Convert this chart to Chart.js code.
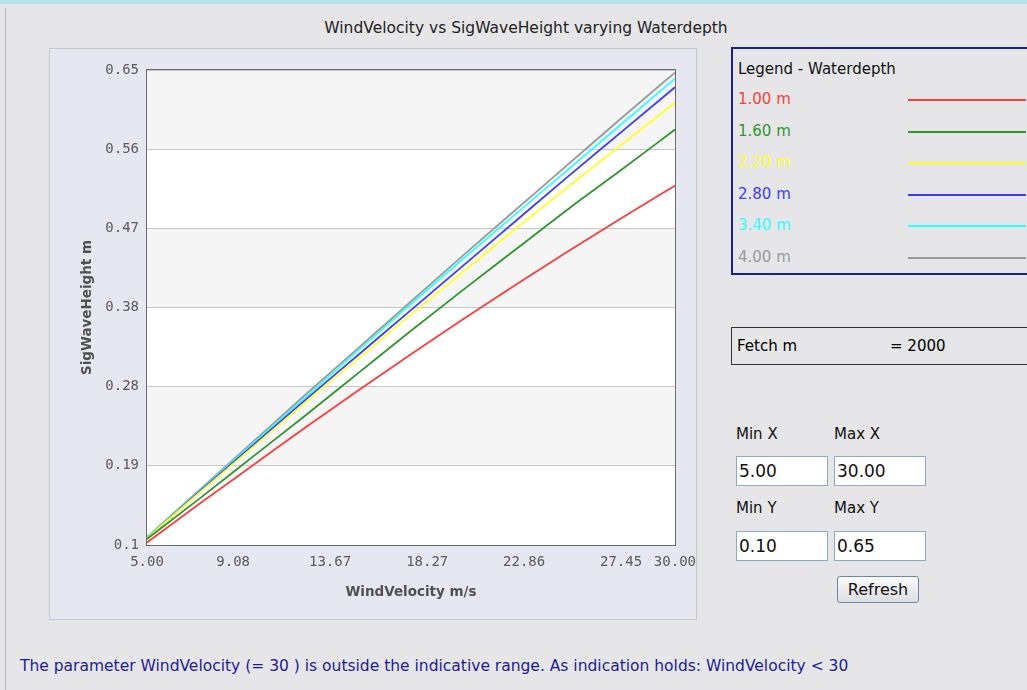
<!DOCTYPE html>
<html>
<head>
<meta charset="utf-8">
<script src="https://cdn.jsdelivr.net/npm/chart.js@4.4.1/dist/chart.umd.min.js"></script>
<style>
  html, body { margin: 0; padding: 0; }
  body {
    width: 1027px; height: 690px; overflow: hidden; position: relative;
    background: #e6e6e8; font-family: "DejaVu Sans", sans-serif;
    border-top: 4px solid #b4e2ea; box-sizing: border-box;
  }
  .frame { position: absolute; left: 5px; top: 4px; width: 1100px; height: 700px; border-left: 1px solid #b8b8bc; }
  .title { position: absolute; left: 176px; width: 700px; top: 15px; text-align: center; font-size: 15.5px; color: #222; }
  .panel {
    position: absolute; left: 49px; top: 44px; width: 646px; height: 570px;
    background: #e6e7f0; border: 1px solid #c6c6cc;
  }
  #plot-canvas { display: block; }
  .legend {
    position: absolute; left: 731px; top: 43px; width: 320px; height: 224px;
    border: 2px solid #20208c; font-size: 15px;
  }
  .legend .head { position: absolute; left: 5px; top: 11px; color: #111; }
  .legend .row { position: absolute; left: 5px; width: 300px; height: 18px; }
  .legend .row span { position: absolute; left: 0; top: 0; }
  .legend .row i { position: absolute; left: 170px; top: 9px; width: 118px; height: 0; border-top: 2px solid; }
  .fetch {
    position: absolute; left: 731px; top: 323px; width: 320px; height: 36px;
    border: 1px solid #333; font-size: 15px;
  }
  .fetch span { position: absolute; top: 9px; }
  .lbl { position: absolute; font-size: 15px; color: #111; }
  .inp {
    position: absolute; width: 88px; height: 28px; background: #fff;
    border: 1px solid #8fa9c9; font-size: 17px; line-height: 28px; padding-left: 2px; box-sizing: content-box; color: #111;
  }
  .btn {
    position: absolute; left: 837px; top: 572px; width: 80px; height: 25px;
    border: 1px solid #6e86a6; border-radius: 3px; font-size: 16px; text-align: center; line-height: 25px;
    background: linear-gradient(#fbfbfb, #dcdde2); color: #111;
  }
  .msg { position: absolute; left: 20px; top: 653px; font-size: 15.5px; color: #1c1c9a; white-space: nowrap; }
</style>
</head>
<body>
<div class="frame"></div>
<div class="title">WindVelocity vs SigWaveHeight varying Waterdepth</div>
<div class="panel"><canvas id="plot-canvas" width="655" height="570"></canvas></div>
<div class="legend" id="legend"><div class="head">Legend - Waterdepth</div></div>
<div class="fetch"><span style="left:5px">Fetch m</span><span style="left:158px">= 2000</span></div>
<div class="lbl" style="left:736px; top:421px">Min X</div>
<div class="lbl" style="left:834px; top:421px">Max X</div>
<div class="inp" style="left:736px; top:452px">5.00</div>
<div class="inp" style="left:834px; top:452px">30.00</div>
<div class="lbl" style="left:736px; top:495px">Min Y</div>
<div class="lbl" style="left:834px; top:495px">Max Y</div>
<div class="inp" style="left:736px; top:527px">0.10</div>
<div class="inp" style="left:834px; top:527px">0.65</div>
<div class="btn">Refresh</div>
<div class="msg">The parameter WindVelocity (= 30 ) is outside the indicative range. As indication holds: WindVelocity &lt; 30</div>

<script>
"use strict";

// Wind velocity (m/s) sample points
const windVelocity = [5, 7.5, 10, 12.5, 15, 17.5, 20, 22.5, 25, 27.5, 30];

// Significant wave height (m) for each water depth
const depth100 = [0.103, 0.148, 0.192, 0.236, 0.279, 0.321, 0.362, 0.402, 0.441, 0.479, 0.516];
const depth160 = [0.107, 0.154, 0.202, 0.250, 0.299, 0.348, 0.396, 0.443, 0.490, 0.535, 0.581];
const depth220 = [0.108, 0.161, 0.213, 0.265, 0.316, 0.367, 0.417, 0.467, 0.516, 0.564, 0.612];
const depth280 = [0.108, 0.162, 0.215, 0.268, 0.320, 0.372, 0.424, 0.476, 0.528, 0.579, 0.630];
const depth340 = [0.109, 0.163, 0.217, 0.271, 0.325, 0.379, 0.432, 0.484, 0.536, 0.588, 0.640];
const depth400 = [0.109, 0.164, 0.219, 0.274, 0.328, 0.382, 0.436, 0.489, 0.542, 0.595, 0.647];

const depthLabels = ['1.00 m', '1.60 m', '2.20 m', '2.80 m', '3.40 m', '4.00 m'];
const depthColors = ['#ff3c3c', '#2f962f', '#ffff2a', '#3c3cff', '#30ffff', '#9a9a9a'];
const depthSeries = [depth100, depth160, depth220, depth280, depth340, depth400];

const xTickLabels = ['5.00', '9.08', '13.67', '18.27', '22.86', '27.45', '30.00'];
const yTickLabels = ['0.1', '0.19', '0.28', '0.38', '0.47', '0.56', '0.65'];

const minX = 5, maxX = 30, minY = 0.1, maxY = 0.65;

let ctx = document.getElementById('plot-canvas').getContext('2d');

// alternating bands behind the plot + frame around it
const bandPlugin = {
    id: 'bands',
    beforeDraw(chart) {
        const { ctx, chartArea: a, scales: { y } } = chart;
        ctx.save();
        ctx.fillStyle = '#ffffff';
        ctx.fillRect(a.left, a.top, a.right - a.left, a.bottom - a.top);
        ctx.fillStyle = '#f5f5f5';
        for (let i = 0; i < y.ticks.length - 1; i++) {
            if (i % 2 === 0) continue;
            const top = y.getPixelForValue(y.ticks[i + 1].value);
            const bot = y.getPixelForValue(y.ticks[i].value);
            ctx.fillRect(a.left, top, a.right - a.left, bot - top);
        }
        ctx.restore();
    },
    afterDraw(chart) {
        const { ctx, chartArea: a } = chart;
        ctx.save();
        ctx.strokeStyle = '#6a6a6a';
        ctx.lineWidth = 1;
        ctx.strokeRect(Math.round(a.left) - 0.5, Math.round(a.top) - 0.5, Math.round(a.right - a.left) + 1, Math.round(a.bottom - a.top) + 1);
        ctx.restore();
    }
};

// html legend from the datasets
const htmlLegend = {
    id: 'htmlLegend',
    afterUpdate(chart) {
        const box = document.getElementById('legend');
        box.querySelectorAll('.row').forEach(r => r.remove());
        chart.data.datasets.forEach((ds, i) => {
            const row = document.createElement('div');
            row.className = 'row';
            row.style.top = (41 + i * 31.6) + 'px';
            row.innerHTML = `<span style="color:${ds.borderColor}">${ds.label}</span><i style="border-color:${ds.borderColor}"></i>`;
            box.appendChild(row);
        });
    }
};

const datasets = depthSeries.map((vals, i) => ({
    label: depthLabels[i],
    data: windVelocity.map((x, j) => ({ x: x, y: vals[j] })),
    borderColor: depthColors[i],
    borderWidth: 1.8,
    pointRadius: 0,
    fill: false,
    cubicInterpolationMode: 'monotone'
}));

const monoFont = { family: '"DejaVu Sans Mono", monospace', size: 14 };
const boldFont = { family: '"DejaVu Sans", sans-serif', size: 13.5, weight: 'bold' };

let chart = new Chart(ctx, {
    type: 'line',
    data: { datasets: datasets },
    options: {
        responsive: false,
        animation: false,
        layout: { padding: { left: 0, right: 21, top: 21, bottom: 0 } },
        plugins: {
            legend: { display: false },
            tooltip: { enabled: false }
        },
        scales: {
            x: {
                type: 'linear', min: minX, max: maxX,
                afterBuildTicks: s => { s.ticks = xTickLabels.map(l => ({ value: parseFloat(l) })); },
                afterFit: s => { s.height = 74; },
                ticks: {
                    callback: (v, i) => xTickLabels[i],
                    font: monoFont, color: '#5a5a5a', padding: 9, maxRotation: 0, autoSkip: false
                },
                grid: { display: false, drawTicks: false },
                border: { display: false },
                title: {
                    display: true, text: 'WindVelocity m/s', font: boldFont, color: '#505050',
                    padding: { top: 10, bottom: 18 }
                }
            },
            y: {
                type: 'linear', min: minY, max: maxY,
                afterBuildTicks: s => {
                    const n = yTickLabels.length;
                    s.ticks = yTickLabels.map((l, i) => ({ value: minY + i * (maxY - minY) / (n - 1) }));
                },
                afterFit: s => { s.width = 97; },
                ticks: {
                    callback: (v, i) => yTickLabels[i],
                    font: monoFont, color: '#5a5a5a', padding: 8, autoSkip: false
                },
                grid: { color: '#c8c8c8', lineWidth: 1, drawTicks: false },
                border: { display: false },
                title: {
                    display: true, text: 'SigWaveHeight m', font: boldFont, color: '#505050',
                    padding: { top: 29, bottom: 0 }
                }
            }
        }
    },
    plugins: [bandPlugin, htmlLegend]
});
</script>
</body>
</html>
